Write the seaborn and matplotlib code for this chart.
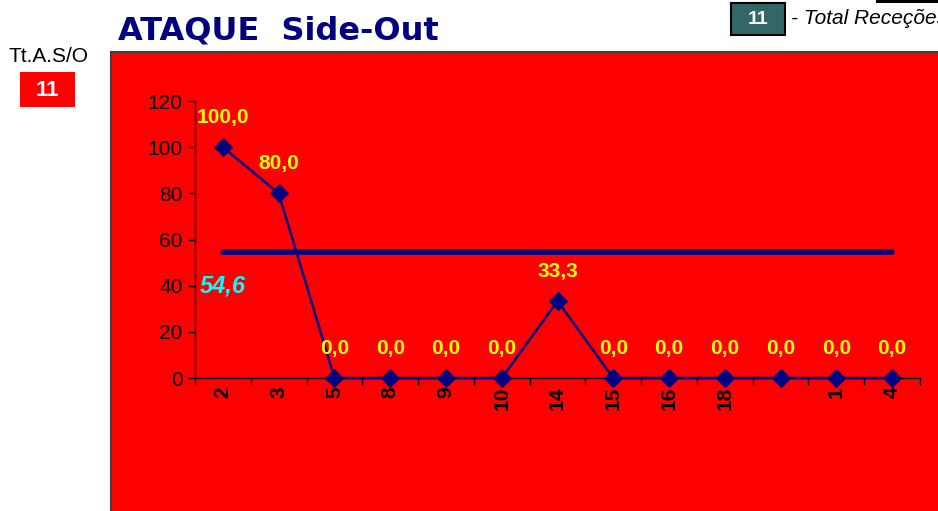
import numpy as np
import pandas as pd
import matplotlib
matplotlib.use("Agg")
import matplotlib.pyplot as plt
from matplotlib.patches import Rectangle
import seaborn as sns

categories = ["2", "3", "5", "8", "9", "10", "14", "15", "16", "18", "", "1", "4"]
values = [100.0, 80.0, 0.0, 0.0, 0.0, 0.0, 33.3, 0.0, 0.0, 0.0, 0.0, 0.0, 0.0]
average = 54.6
total_attacks = 11
total_receptions = 11
yticks = [0, 20, 40, 60, 80, 100, 120]

sns.set_theme(style="white")
plt.rcParams['font.family'] = ['Liberation Sans', 'DejaVu Sans']

W, H = 938, 511
fig = plt.figure(figsize=(W / 100, H / 100), dpi=100)
fig.patch.set_facecolor("white")

def fx(px):
    return px / W

def fy(py):
    return 1 - py / H

# red panel
fig.patches.append(Rectangle((fx(111), fy(530)), fx(850), fy(52) - fy(530),
                             transform=fig.transFigure, facecolor="#FF0000",
                             edgecolor="#404040", linewidth=1.5, zorder=-1))

ax = fig.add_axes([fx(195), fy(378), fx(920) - fx(195), fy(101) - fy(378)])
ax.set_facecolor("none")
ax.patch.set_alpha(0)

df = pd.DataFrame({"x": np.arange(len(categories)), "y": values})
sns.lineplot(data=df, x="x", y="y", ax=ax, color="#000080", marker="D",
             markersize=9, markeredgecolor="#000080", linewidth=1.8, zorder=3,
             clip_on=False)

# average line
ax.plot([0, len(categories) - 1], [average, average], color="#000080",
        linewidth=4, solid_capstyle="round", zorder=2)

ax.set_xlim(-0.5, len(categories) - 0.5)
ax.set_ylim(0, 120)
ax.set_yticks(yticks)
ax.set_yticklabels([str(t) for t in yticks], fontsize=15, color="black")
ax.set_xticks(np.arange(len(categories)))
ax.set_xticklabels(categories, rotation=90, fontsize=15, fontweight="bold", color="black")
ax.set_xticks(np.arange(len(categories) + 1) - 0.5, minor=True)
ax.tick_params(axis="x", which="major", length=0, pad=6)
ax.tick_params(axis="x", which="minor", length=5, width=1, color="black", direction="out", bottom=True)
ax.tick_params(axis="y", which="major", length=5, width=1, color="black", direction="out", left=True, pad=4)
ax.set_xlabel("")
ax.set_ylabel("")
for s in ["top", "right"]:
    ax.spines[s].set_visible(False)
for s in ["left", "bottom"]:
    ax.spines[s].set_color("black")
    ax.spines[s].set_linewidth(1)
ax.grid(False)

for i, v in enumerate(values):
    ax.annotate(f"{v:.1f}".replace(".", ","), (i, v), xytext=(0, 14.5), textcoords="offset points",
                ha="center", va="bottom", color="#FFFF00", fontsize=15, fontweight="bold")

ax.text(-0.42, 40, f"{average:.1f}".replace(".", ","), color="#00FFFF", fontsize=17,
        fontweight="bold", fontstyle="italic", ha="left", va="center")

# title
fig.text(fx(118), fy(31), "ATAQUE  Side-Out", color="#000080", fontsize=23,
         fontweight="heavy", family=["DejaVu Sans"], ha="left", va="center")

# left labels
fig.text(fx(48), fy(56), "Tt.A.S/O", fontsize=15, color="black", ha="center", va="center")
fig.patches.append(Rectangle((fx(20), fy(107)), fx(55), fy(72) - fy(107), transform=fig.transFigure,
                             facecolor="#FF0000", edgecolor="none", zorder=1))
fig.text(fx(47.5), fy(90), str(total_attacks), fontsize=16, fontweight="bold", color="white",
         ha="center", va="center")

# top-right box
fig.patches.append(Rectangle((fx(731), fy(35)), fx(54), fy(3) - fy(35), transform=fig.transFigure,
                             facecolor="#336666", edgecolor="black", linewidth=1.5, zorder=1))
fig.text(fx(758), fy(19), str(total_receptions), fontsize=14, fontweight="bold", color="white",
         ha="center", va="center")
fig.text(fx(791), fy(18), "- Total Receções", fontsize=15, fontstyle="italic", color="black",
         ha="left", va="center")
fig.patches.append(Rectangle((fx(876), fy(3)), fx(70), fy(0) - fy(3), transform=fig.transFigure,
                             facecolor="black", edgecolor="none", zorder=1))

fig.savefig("out.png", dpi=100)
